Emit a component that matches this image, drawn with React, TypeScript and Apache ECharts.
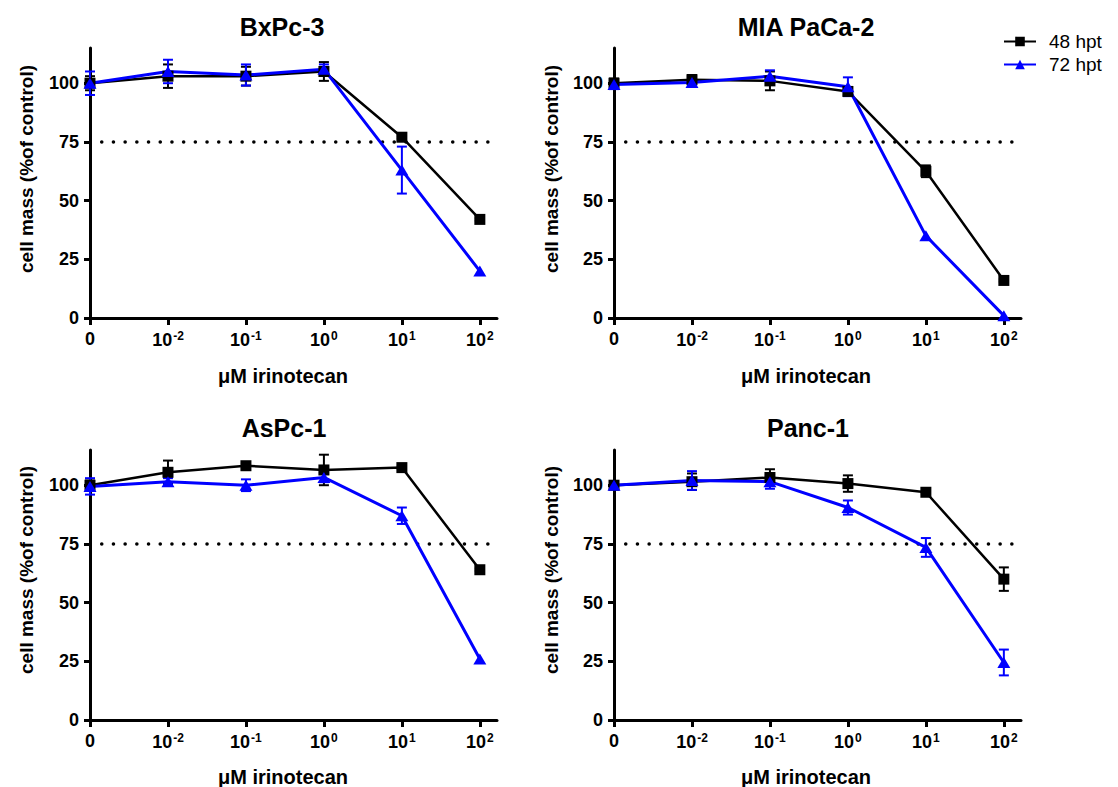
import React, { useEffect, useRef } from "react";
import * as echarts from "echarts";

const xPositions = [0, 1, 2, 3, 4, 5];
const xTickLabels = ["0", "10{s|-2}", "10{s|-1}", "10{s|0}", "10{s|1}", "10{s|2}"];
const yTicks = [0, 25, 50, 75, 100];
const threshold = 75;
const seriesNames = ["48 hpt", "72 hpt"];
const panelTitles = ["BxPc-3", "MIA PaCa-2", "AsPc-1", "Panc-1"];

// BxPc-3
const bxpc48 = [100, 103, 103, 105, 77, 42];
const bxpc48Err = [3, 5, 4, 4, 0.5, 0.5];
const bxpc72 = [100, 105, 103.5, 106, 63, 20];
const bxpc72Err = [5, 5, 4.5, 2, 10, 0];
// MIA PaCa-2
const mia48 = [100, 101.5, 101, 96.5, 62.5, 16];
const mia48Err = [2, 2, 4, 1.5, 2.5, 0.5];
const mia72 = [99.5, 100.3, 103, 98.5, 35, 1];
const mia72Err = [2, 1.5, 2.5, 4, 0, 0];
// AsPc-1
const aspc48 = [100, 105.5, 108.3, 106.5, 107.5, 64];
const aspc48Err = [2, 5, 1, 6.5, 0.5, 0.5];
const aspc72 = [99.5, 101.5, 100, 103.3, 87, 26];
const aspc72Err = [3.5, 1.5, 2.5, 2, 3.5, 0];
// Panc-1
const panc48 = [100, 101.5, 103.3, 100.7, 97, 60];
const panc48Err = [1.5, 3.5, 3.5, 3.5, 0.5, 5];
const panc72 = [100, 102, 101.5, 90.5, 73.5, 24.5];
const panc72Err = [1.5, 4, 3, 3, 4, 5.5];

const panels = [
  { v48: bxpc48, e48: bxpc48Err, v72: bxpc72, e72: bxpc72Err },
  { v48: mia48, e48: mia48Err, v72: mia72, e72: mia72Err },
  { v48: aspc48, e48: aspc48Err, v72: aspc72, e72: aspc72Err },
  { v48: panc48, e48: panc48Err, v72: panc72, e72: panc72Err },
];

const FONT = "'Liberation Sans', Arial, Helvetica, sans-serif";
const BLACK = "#000000";
const BLUE = "#0000ff";

const gridPos = [
  { left: 90, top: 48 },
  { left: 614, top: 48 },
  { left: 90, top: 450 },
  { left: 614, top: 450 },
];
const GW = 407;
const GH = 270;

function errRender(color: string) {
  return (params: any, api: any) => {
    const x = api.value(0);
    const y = api.value(1);
    const e = api.value(2);
    if (!e) return { type: "group", children: [] };
    const t = api.coord([x, y + e]);
    const b = api.coord([x, y - e]);
    const hw = 5;
    const st = { stroke: color, lineWidth: 2 };
    return {
      type: "group",
      children: [
        { type: "line", shape: { x1: t[0], y1: t[1], x2: b[0], y2: b[1] }, style: st },
        { type: "line", shape: { x1: t[0] - hw, y1: t[1], x2: t[0] + hw, y2: t[1] }, style: st },
        { type: "line", shape: { x1: b[0] - hw, y1: b[1], x2: b[0] + hw, y2: b[1] }, style: st },
      ],
    };
  };
}

export default function App() {
  const ref = useRef<HTMLDivElement>(null);
  useEffect(() => {
    if (!ref.current) return;
    const chart = echarts.init(ref.current, undefined, { renderer: "svg" });

    const grids = gridPos.map((g) => ({ left: g.left, top: g.top, width: GW, height: GH }));
    const xAxes = gridPos.map((_, i) => ({
      type: "value",
      gridIndex: i,
      min: 0,
      max: 5.22,
      splitLine: { show: false },
      axisLine: { show: true, onZero: false, lineStyle: { color: BLACK, width: 3 } },
      axisTick: { show: true, customValues: xPositions, length: 7, lineStyle: { color: BLACK, width: 3 } },
      axisLabel: {
        show: true,
        customValues: xPositions,
        margin: 12,
        color: BLACK,
        fontFamily: FONT,
        fontWeight: "bold",
        fontSize: 18,
        formatter: (v: number) => xTickLabels[Math.round(v)] ?? "",
        rich: {
          s: { fontSize: 12, fontWeight: "bold", fontFamily: FONT, color: BLACK, padding: [0, 0, 8, 1] },
        },
      },
    }));
    const yAxes = gridPos.map((_, i) => ({
      type: "value",
      gridIndex: i,
      min: 0,
      max: 115,
      splitLine: { show: false },
      axisLine: { show: true, onZero: false, lineStyle: { color: BLACK, width: 3 } },
      axisTick: { show: true, customValues: yTicks, length: 6, lineStyle: { color: BLACK, width: 3 } },
      axisLabel: {
        show: true,
        customValues: yTicks,
        margin: 11,
        color: BLACK,
        fontFamily: FONT,
        fontWeight: "bold",
        fontSize: 18,
      },
    }));

    const series: any[] = [];
    panels.forEach((p, i) => {
      series.push({
        type: "line",
        xAxisIndex: i,
        yAxisIndex: i,
        silent: true,
        symbol: "none",
        data: [[0.15, threshold], [5.22, threshold]],
        lineStyle: { color: BLACK, width: 3.5, type: [0.1, 11.6], cap: "round" },
        z: 1,
      });
      series.push({
        type: "custom",
        name: "48 err",
        xAxisIndex: i,
        yAxisIndex: i,
        renderItem: errRender(BLACK),
        encode: { x: 0, y: 1 },
        data: p.v48.map((v, k) => [xPositions[k], v, p.e48[k]]),
        z: 2,
      });
      series.push({
        type: "line",
        name: seriesNames[0],
        xAxisIndex: i,
        yAxisIndex: i,
        clip: false,
        symbol: "rect",
        symbolSize: 11,
        data: p.v48.map((v, k) => [xPositions[k], v]),
        lineStyle: { color: BLACK, width: 2.5 },
        itemStyle: { color: BLACK },
        z: 2,
      });
      series.push({
        type: "custom",
        name: "72 err",
        xAxisIndex: i,
        yAxisIndex: i,
        renderItem: errRender(BLUE),
        encode: { x: 0, y: 1 },
        data: p.v72.map((v, k) => [xPositions[k], v, p.e72[k]]),
        z: 2,
      });
      series.push({
        type: "line",
        name: seriesNames[1],
        xAxisIndex: i,
        yAxisIndex: i,
        clip: false,
        symbol: "triangle",
        symbolSize: [13, 11],
        data: p.v72.map((v, k) => [xPositions[k], v]),
        lineStyle: { color: BLUE, width: 3 },
        itemStyle: { color: BLUE },
        z: 2,
      });
    });

    const titleCenters = [
      [282, 27],
      [806, 27],
      [284, 428],
      [808, 428],
    ];
    const xNameCenters = [
      [283, 376],
      [806, 376],
      [283, 777],
      [806, 777],
    ];
    const yNameCenters = [
      [26, 169],
      [551, 169],
      [26, 570],
      [551, 570],
    ];

    const graphics: any[] = [];
    panelTitles.forEach((t, i) => {
      graphics.push({
        type: "text",
        x: titleCenters[i][0],
        y: titleCenters[i][1],
        style: {
          text: t,
          fontFamily: FONT,
          fontWeight: "bold",
          fontSize: 25,
          fill: BLACK,
          textAlign: "center",
          textVerticalAlign: "middle",
        },
      });
      graphics.push({
        type: "text",
        x: xNameCenters[i][0],
        y: xNameCenters[i][1],
        style: {
          text: "μM irinotecan",
          fontFamily: FONT,
          fontWeight: "bold",
          fontSize: 20,
          fill: BLACK,
          textAlign: "center",
          textVerticalAlign: "middle",
        },
      });
      graphics.push({
        type: "text",
        x: yNameCenters[i][0],
        y: yNameCenters[i][1],
        rotation: Math.PI / 2,
        style: {
          text: "cell mass (%of control)",
          fontFamily: FONT,
          fontWeight: "bold",
          fontSize: 19,
          fill: BLACK,
          textAlign: "center",
          textVerticalAlign: "middle",
        },
      });
    });

    chart.setOption({
      animation: false,
      backgroundColor: "#ffffff",
      grid: grids,
      xAxis: xAxes,
      yAxis: yAxes,
      legend: {
        data: seriesNames,
        orient: "vertical",
        left: 998,
        top: 27,
        itemWidth: 32,
        itemHeight: 12,
        itemGap: 4,
        textStyle: { fontFamily: FONT, fontSize: 19, color: BLACK, padding: [0, 0, 0, 8] },
        selectedMode: false,
      },
      graphic: graphics,
      series,
    });
    return () => chart.dispose();
  }, []);
  return (
    <div
      ref={ref}
      style={{ position: "absolute", left: 0, top: 0, width: 1118, height: 787, background: "#fff" }}
    />
  );
}
